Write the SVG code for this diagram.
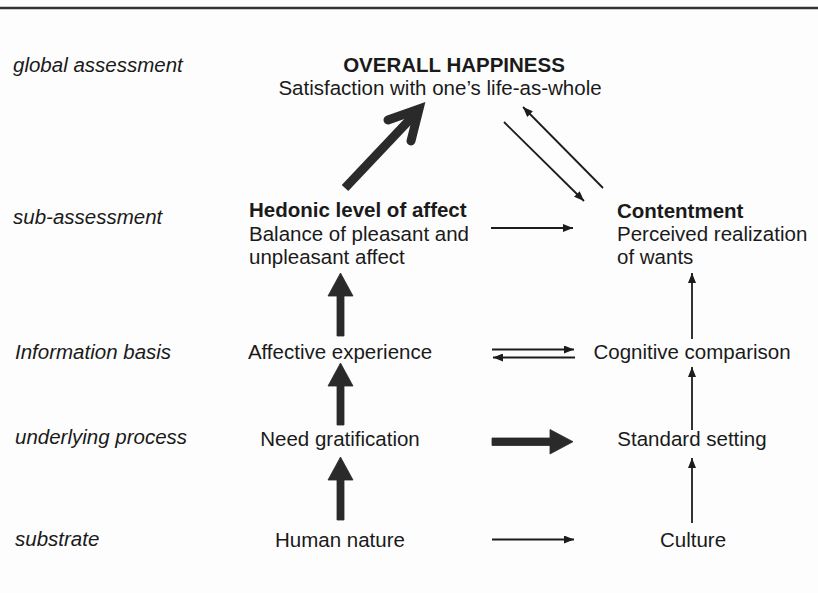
<svg xmlns="http://www.w3.org/2000/svg" width="818" height="593" viewBox="0 0 818 593">
<defs>
<style>
text{font-family:"Liberation Sans",Arial,sans-serif;font-size:20.5px;fill:#1a1a1a}
.lab{font-style:italic}
.b{font-weight:bold}
.c{text-anchor:middle}
.thin{stroke:#1c1c1c;stroke-width:1.8;fill:none;marker-end:url(#ah)}
.thick{fill:#2a2a2a;stroke:#2a2a2a;stroke-width:0.8;stroke-linejoin:miter}
</style>
<marker id="ah" viewBox="0 0 10 8" markerWidth="10" markerHeight="8" refX="10" refY="4" orient="auto" markerUnits="userSpaceOnUse">
<path d="M0,0 L10,4 L0,8 Z" fill="#1c1c1c"/>
</marker>
</defs>
<rect width="818" height="593" fill="#fdfdfd"/>
<line x1="0" y1="8" x2="818" y2="8" stroke="#333" stroke-width="2.5"/>
<g id="levels">
<text class="lab" x="13" y="72">global assessment</text>
<text class="lab" x="13" y="224">sub-assessment</text>
<text class="lab" x="15" y="359">Information basis</text>
<text class="lab" x="15" y="444">underlying process</text>
<text class="lab" x="15" y="546">substrate</text>
</g>
<g id="overall">
<text class="b c" x="454" y="72">OVERALL HAPPINESS</text>
<text class="c" x="440" y="95">Satisfaction with one’s life-as-whole</text>
</g>
<g id="hedonic">
<text class="b" x="249" y="217">Hedonic level of affect</text>
<text x="249" y="241">Balance of pleasant and</text>
<text x="249" y="264">unpleasant affect</text>
</g>
<g id="contentment">
<text class="b" x="617" y="218">Contentment</text>
<text x="617" y="241">Perceived realization</text>
<text x="617" y="264">of wants</text>
</g>
<g id="affective"><text class="c" x="340" y="359">Affective experience</text></g>
<g id="cognitive"><text class="c" x="692" y="359">Cognitive comparison</text></g>
<g id="need"><text class="c" x="340" y="446">Need gratification</text></g>
<g id="standard"><text class="c" x="692" y="446">Standard setting</text></g>
<g id="human"><text class="c" x="340" y="547">Human nature</text></g>
<g id="culture"><text class="c" x="693" y="547">Culture</text></g>
<g id="connectors">
<line x1="345" y1="188" x2="415" y2="114" stroke="#2a2a2a" stroke-width="9"/>
<polyline points="388,120 419,109 411,141" fill="none" stroke="#2a2a2a" stroke-width="9" stroke-linecap="round" stroke-linejoin="miter"/>
<line class="thin" x1="504" y1="122" x2="584" y2="201"/>
<line class="thin" x1="603" y1="188" x2="523" y2="107"/>
<line class="thin" x1="491" y1="228" x2="573" y2="228"/>
<line class="thin" x1="492" y1="349.5" x2="574" y2="349.5"/>
<line class="thin" x1="575" y1="357.5" x2="493" y2="357.5"/>
<line class="thin" x1="492" y1="539.5" x2="574" y2="539.5"/>
<line class="thin" x1="692" y1="339" x2="692" y2="273"/>
<line class="thin" x1="692" y1="430" x2="692" y2="367"/>
<line class="thin" x1="692" y1="523" x2="692" y2="458"/>
<path class="thick" d="M337,336 V296 H328 L340.5,273 L353,296 H344 V336 Z"/>
<path class="thick" d="M337,425 V386 H328 L340.5,363 L353,386 H344 V425 Z"/>
<path class="thick" d="M337,520 V480 H328 L340.5,457 L353,480 H344 V520 Z"/>
<path class="thick" d="M492,438 H550 V429.5 L573,441.7 L550,454 V445.5 H492 Z"/>
</g>
</svg>
